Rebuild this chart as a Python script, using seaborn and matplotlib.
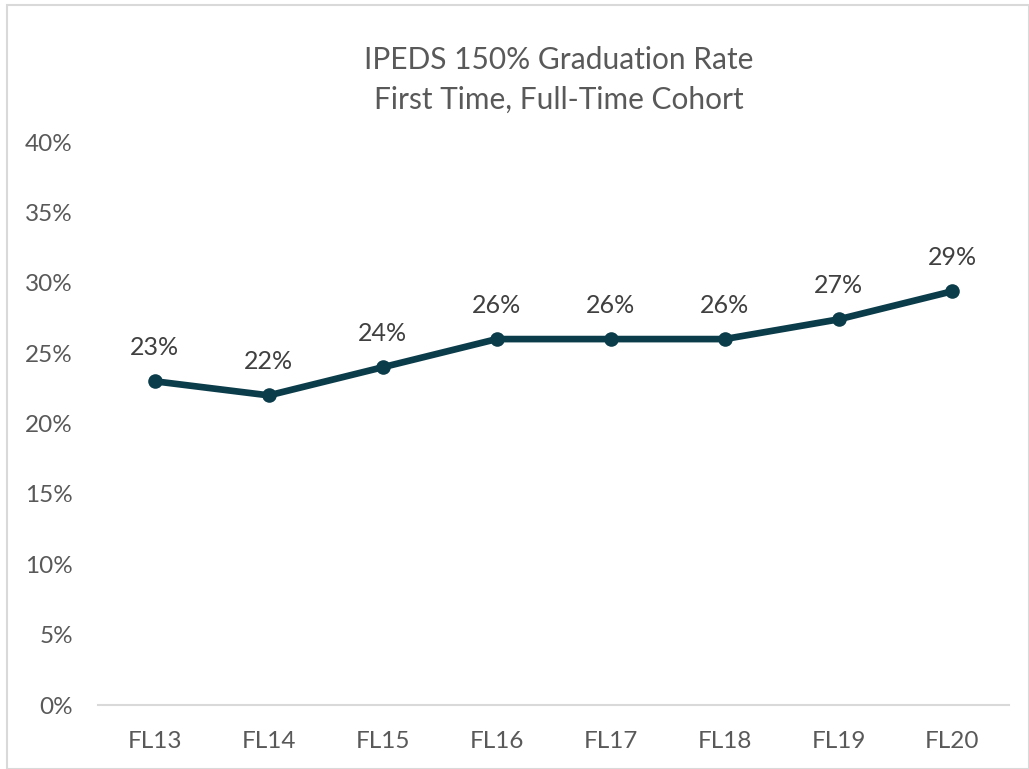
import matplotlib
matplotlib.use("Agg")
import matplotlib.pyplot as plt
import seaborn as sns
import pandas as pd
from matplotlib.patches import Rectangle
from matplotlib.ticker import FuncFormatter, MultipleLocator

categories = ["FL13", "FL14", "FL15", "FL16", "FL17", "FL18", "FL19", "FL20"]
rates = [23.0, 22.0, 24.0, 26.0, 26.0, 26.0, 27.4, 29.4]
title_lines = ["IPEDS 150% Graduation Rate", "First Time, Full-Time Cohort"]

sns.set_theme(style="white")
plt.rcParams['font.family'] = ['Lato', 'DejaVu Sans']

df = pd.DataFrame({"cat": categories, "rate": rates, "x": range(len(categories))})

fig = plt.figure(figsize=(10.29, 7.69), dpi=100)
ax = fig.add_axes([0.0952, 0.0832, 0.8858, 0.7321])

line_color = "#0B3C4A"
text_color = "#595959"

sns.lineplot(data=df, x="x", y="rate", ax=ax, color=line_color, linewidth=4.8,
             marker="o", markersize=10.5, markeredgewidth=0, markeredgecolor=line_color)

for xi, v in zip(df["x"], df["rate"]):
    ax.annotate(f"{int(v)}%", (xi, v), xytext=(0, 16), textcoords="offset points",
                ha="center", va="bottom", fontsize=18, color="#404040")

ax.set_xlim(-0.5, len(categories) - 0.5)
ax.set_ylim(0, 40)
ax.yaxis.set_major_locator(MultipleLocator(5))
ax.yaxis.set_major_formatter(FuncFormatter(lambda v, p: f"{int(v)}%"))
ax.set_xticks(range(len(categories)))
ax.set_xticklabels(categories)
ax.tick_params(axis="both", labelsize=17.5, colors=text_color, length=0)
ax.tick_params(axis="x", pad=19)
ax.tick_params(axis="y", pad=18)
ax.set_xlabel("")
ax.set_ylabel("")
for s in ["top", "right", "left"]:
    ax.spines[s].set_visible(False)
ax.spines["bottom"].set_color("#D9D9D9")
ax.spines["bottom"].set_linewidth(1.5)

fig.text(0.543, 0.922, title_lines[0], ha="center", va="center", fontsize=21.5, color=text_color)
fig.text(0.543, 0.870, title_lines[1], ha="center", va="center", fontsize=21.5, color=text_color)

fig.patches.append(Rectangle((0.007, 0.0), 0.993, 0.994, transform=fig.transFigure,
                             fill=False, edgecolor="#D9D9D9", linewidth=1.5))

fig.savefig("out.png", dpi=100)
